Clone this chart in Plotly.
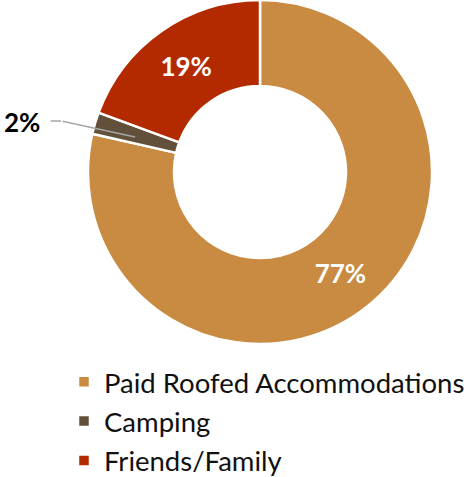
import plotly.graph_objects as go

labels = ["Paid Roofed Accommodations", "Camping", "Friends/Family"]
values = [77, 2, 19]
pct_text = ["77%", "", "19%"]
colors = ["#C98A41", "#63503A", "#B32A00"]

W, H = 466, 477
fig = go.Figure()
fig.add_trace(go.Pie(
    labels=[f'<span style="font-size:27.5px">{l}</span>' for l in labels],
    values=values,
    text=pct_text,
    textinfo="text",
    textposition="inside",
    insidetextorientation="horizontal",
    textfont=dict(family="Lato", size=26, color="white", weight="bold"),
    hole=0.5,
    sort=False,
    direction="clockwise",
    rotation=0,
    marker=dict(colors=colors, line=dict(color="white", width=2.5)),
    domain=dict(x=[88 / W, 432 / W], y=[1 - 344 / H, 1]),
    hoverinfo="label+percent",
))

# 2% label with bent leader line
fig.add_annotation(
    x=135 / W, y=1 - 137 / H, xref="paper", yref="paper",
    ax=61 - 135, ay=121 - 137,
    showarrow=True, arrowhead=0, arrowwidth=1.5, arrowcolor="#A6A6A6",
    text="",
)
fig.add_annotation(
    x=61 / W, y=1 - 121 / H, xref="paper", yref="paper",
    ax=49 - 61, ay=0,
    showarrow=True, arrowhead=0, arrowwidth=1.5, arrowcolor="#A6A6A6",
    text="",
)
fig.add_annotation(
    x=22 / W, y=1 - 122 / H, xref="paper", yref="paper",
    xanchor="center", yanchor="middle",
    text="<b>" + f"{values[1]}%" + "</b>", showarrow=False,
    font=dict(family="Lato", size=26, color="black"),
)

fig.update_layout(
    width=W, height=H,
    margin=dict(l=0, r=0, t=0, b=0, autoexpand=False),
    paper_bgcolor="white",
    showlegend=True,
    legend=dict(
        x=64 / W, y=1 - 357 / H, xanchor="left", yanchor="top",
        font=dict(family="Lato", size=28, color="#111111"),
        itemclick=False,
    ),
)
fig.write_html("out.html", config={"displayModeBar": False},
               post_script="document.body.style.margin='0';")
